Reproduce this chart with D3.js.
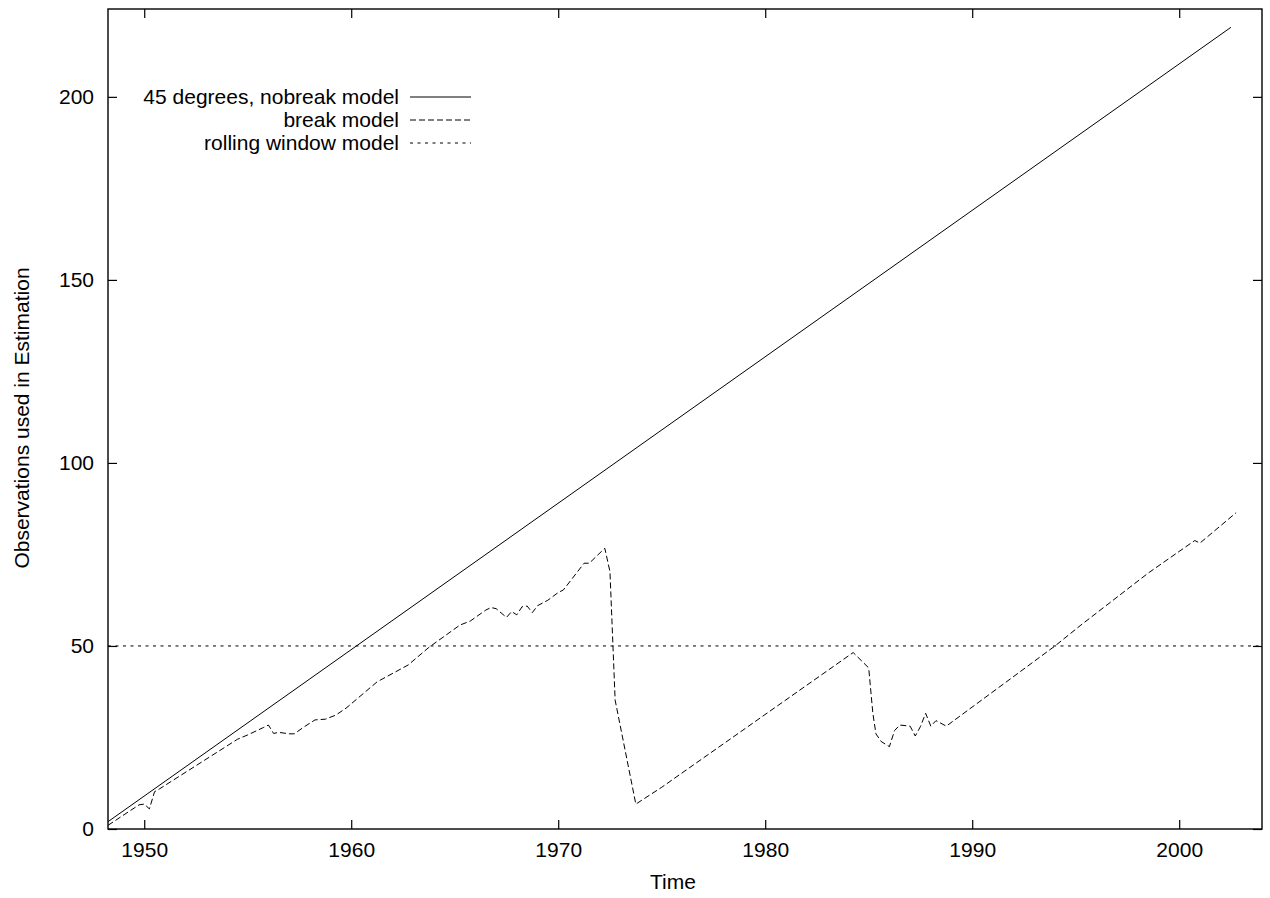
<!DOCTYPE html>
<html>
<head>
<meta charset="utf-8">
<script src="https://cdn.jsdelivr.net/npm/d3@7"></script>
<style>
  body { margin: 0; background: #fff; }
  text { font-family: "Liberation Sans", Arial, Helvetica, sans-serif; font-size: 21px; fill: #000; }
</style>
</head>
<body>
<svg id="chart" width="1270" height="898"></svg>
<script>
// series
const nobreakYears = [1948.25, 2002.5];
const nobreakValues = [2, 219];

const breakYears = [1948.25, 1949.75, 1950.0, 1950.25, 1950.5, 1950.75, 1954.5, 1955.0, 1955.75, 1956.0,
  1956.25, 1956.5, 1957.0, 1957.25, 1957.75, 1958.25, 1958.75, 1959.25, 1959.75, 1961.25,
  1962.75, 1963.75, 1965.25, 1965.75, 1966.5, 1966.75, 1967.0, 1967.5, 1967.75, 1968.0,
  1968.25, 1968.5, 1968.75, 1969.0, 1969.5, 1970.0, 1970.25, 1971.25, 1971.5, 1972.25,
  1972.5, 1972.75, 1973.75, 1975.0, 1984.25, 1984.75, 1985.0, 1985.2, 1985.35, 1985.6,
  1986.0, 1986.25, 1986.5, 1987.0, 1987.25, 1987.5, 1987.75, 1988.0, 1988.25, 1988.75,
  1994.0, 1995.25, 1998.5, 2000.75, 2001.0, 2002.75];
const breakValues = [1, 6.6, 6.8, 5.5, 10.2, 11, 24.5, 25.7, 27.7, 28.4,
  26.1, 26.4, 26, 26, 28, 29.8, 30, 31.1, 33, 40.2,
  44.8, 49.6, 55.7, 56.8, 59.8, 60.5, 60.2, 57.8, 59.4, 58.5,
  60.7, 60.9, 59.1, 61, 62.5, 64.6, 65.3, 72.6, 72.6, 76.7,
  70.3, 35.2, 6.8, 11.4, 48.2, 45.4, 44, 31.6, 26, 23.9,
  22.5, 26.9, 28.4, 28.1, 25.4, 28, 31.6, 28.1, 29.6, 28.1,
  50, 55.7, 69.9, 78.8, 78.1, 86.4];

const rollingYears = [1948.25, 2004];
const rollingValues = [50, 50];

const xTicks = [1950, 1960, 1970, 1980, 1990, 2000];
const yTicks = [0, 50, 100, 150, 200];

const legendLabels = ["45 degrees, nobreak model", "break model", "rolling window model"];
const dashes = [null, "6,3", "3,4.5"];

const margin = { top: 9, right: 8, bottom: 69, left: 108 };
const width = 1270 - margin.left - margin.right;
const height = 898 - margin.top - margin.bottom;

const svg = d3.select("#chart");
const g = svg.append("g").attr("transform", `translate(${margin.left},${margin.top})`);

const x = d3.scaleLinear().domain([1948.25, 2004]).range([0, width]);
const y = d3.scaleLinear().domain([0, 224]).range([height, 0]);

const line = d3.line().x(d => x(d[0])).y(d => y(d[1]));

const series = [
  d3.zip(nobreakYears, nobreakValues),
  d3.zip(breakYears, breakValues),
  d3.zip(rollingYears, rollingValues)
];

// axes, gnuplot style: ticks pointing in on all four sides
const styleAxis = sel => {
  sel.select(".domain").remove();
  sel.selectAll(".tick line").attr("stroke", "#000").attr("stroke-width", 1.2);
  sel.selectAll("text").style("font-size", "21px").attr("fill", "#000").attr("font-family", null);
};

g.append("g").attr("transform", `translate(0,${height})`)
  .call(d3.axisBottom(x).tickValues(xTicks).tickFormat(d3.format("d")).tickSize(-9).tickPadding(13))
  .call(styleAxis);
g.append("g")
  .call(d3.axisTop(x).tickValues(xTicks).tickFormat("").tickSize(-9))
  .call(styleAxis);
g.append("g")
  .call(d3.axisLeft(y).tickValues(yTicks).tickSize(-9).tickPadding(14))
  .call(styleAxis);
g.append("g").attr("transform", `translate(${width},0)`)
  .call(d3.axisRight(y).tickValues(yTicks).tickFormat("").tickSize(-9))
  .call(styleAxis);

// data lines
g.selectAll("path.series")
  .data(series)
  .join("path")
  .attr("class", "series")
  .attr("fill", "none")
  .attr("stroke", "#000")
  .attr("stroke-width", 1)
  .attr("stroke-dasharray", (d, i) => dashes[i])
  .attr("d", line);

// frame
g.append("rect")
  .attr("width", width).attr("height", height)
  .attr("fill", "none").attr("stroke", "#000").attr("stroke-width", 1.4);

// legend
const legend = g.append("g").attr("transform", `translate(${399 - margin.left},${97 - margin.top})`);
const rows = legend.selectAll("g").data(legendLabels).join("g")
  .attr("transform", (d, i) => `translate(0,${i * 23})`);
rows.append("text")
  .attr("text-anchor", "end")
  .attr("dy", "0.35em")
  .text(d => d);
rows.append("line")
  .attr("x1", 11).attr("x2", 72)
  .attr("stroke", "#000").attr("stroke-width", 1)
  .attr("stroke-dasharray", (d, i) => dashes[i]);

// axis titles
svg.append("text")
  .attr("x", 673).attr("y", 882)
  .attr("text-anchor", "middle").attr("dy", "0.35em")
  .text("Time");
svg.append("text")
  .attr("transform", `translate(22,418) rotate(-90)`)
  .attr("text-anchor", "middle").attr("dy", "0.35em")
  .text("Observations used in Estimation");
</script>
</body>
</html>
